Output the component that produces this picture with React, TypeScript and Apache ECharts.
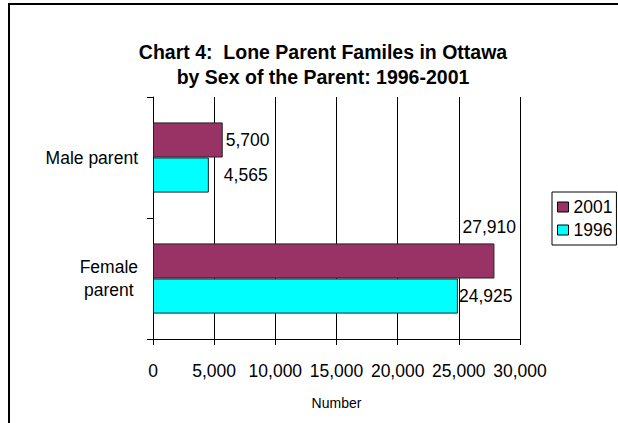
import React, { useEffect, useRef } from "react";
import * as echarts from "echarts";

const categories = ["Female\nparent", "Male parent"];
const values1996 = [24925, 4565];
const values2001 = [27910, 5700];
const seriesNames = ["2001", "1996"];
const xTicks = { min: 0, max: 30000, interval: 5000 };

const FONT = "Liberation Sans, Arial, sans-serif";
const FS = 17.5;
const fmt = (v: number) => v.toLocaleString("en-US");

export default function App() {
  const ref = useRef<HTMLDivElement>(null);
  useEffect(() => {
    if (!ref.current) return;
    const chart = echarts.init(ref.current, null, { renderer: "svg" });
    const labelBase = {
      show: true,
      position: "right",
      fontSize: FS,
      fontFamily: FONT,
      color: "#000",
      formatter: (p: any) => fmt(p.value),
    };
    const data1996 = values1996.map((v, i) => ({
      value: v,
      label: i === 0 ? { distance: 1 } : { distance: 15 },
    }));
    const data2001 = values2001.map((v, i) => ({
      value: v,
      label: i === 0 ? { distance: 5, offset: [-37, -34] } : { distance: 3 },
    }));
    chart.setOption({
      animation: false,
      backgroundColor: "#fff",
      textStyle: { fontFamily: FONT },
      title: {
        text: "Chart 4:  Lone Parent Familes in Ottawa\nby Sex of the Parent: 1996-2001",
        left: 318,
        top: 34,
        textAlign: "center",
        textStyle: {
          fontFamily: FONT,
          fontWeight: "bold",
          fontSize: 19.5,
          lineHeight: 25,
          color: "#000",
        },
      },
      legend: {
        data: seriesNames,
        orient: "vertical",
        left: 552,
        top: 192,
        padding: [5, 4, 5, 5],
        itemGap: 3,
        itemWidth: 11,
        itemHeight: 10,
        borderColor: "#000",
        borderWidth: 1,
        icon: "rect",
        itemStyle: { borderColor: "#000", borderWidth: 1 },
        textStyle: { fontFamily: FONT, fontSize: FS, lineHeight: 20, color: "#000" },
      },
      grid: { left: 153, right: 98, top: 97, bottom: 84, containLabel: false },
      xAxis: {
        type: "value",
        min: xTicks.min,
        max: xTicks.max,
        interval: xTicks.interval,
        name: "Number",
        nameLocation: "middle",
        nameGap: 57,
        nameTextStyle: { fontFamily: FONT, fontSize: 14, color: "#000" },
        axisLine: { show: true, lineStyle: { color: "#000", width: 1 } },
        axisTick: { show: true, length: 6, lineStyle: { color: "#000" } },
        axisLabel: {
          fontFamily: FONT,
          fontSize: FS,
          color: "#000",
          margin: 23,
          formatter: (v: number) => fmt(v),
        },
        splitLine: { show: true, lineStyle: { color: "#000", width: 1 } },
      },
      yAxis: {
        type: "category",
        data: categories,
        axisLine: { show: true, lineStyle: { color: "#000", width: 1 } },
        axisTick: { show: true, length: 6, lineStyle: { color: "#000" } },
        axisLabel: {
          fontFamily: FONT,
          fontSize: FS,
          color: "#000",
          margin: 15,
          lineHeight: 23,
          formatter: (v: string) =>
            v.split("\n").map((l) => `{c|${l}}`).join("\n"),
          rich: { c: { align: "center", fontSize: FS, fontFamily: FONT, color: "#000", lineHeight: 23 } },
        },
        splitLine: { show: false },
      },
      series: [
        {
          name: "2001",
          type: "bar",
          data: data2001,
          barGap: "0%",
          barCategoryGap: "42%",
          itemStyle: { color: "#993366", borderColor: "#222", borderWidth: 1 },
          label: labelBase,
        },
        {
          name: "1996",
          type: "bar",
          data: data1996,
          barGap: "0%",
          barCategoryGap: "42%",
          itemStyle: { color: "#00FFFF", borderColor: "#222", borderWidth: 1 },
          label: labelBase,
        },
      ],
      graphic: [
        {
          type: "line",
          shape: { x1: 8, y1: 4, x2: 618, y2: 4 },
          style: { stroke: "#000", lineWidth: 2 },
          silent: true,
        },
        {
          type: "line",
          shape: { x1: 9, y1: 3, x2: 9, y2: 423 },
          style: { stroke: "#000", lineWidth: 2 },
          silent: true,
        },
      ],
    });
    return () => chart.dispose();
  }, []);
  return (
    <div
      ref={ref}
      style={{ position: "fixed", left: 0, top: 0, width: 618, height: 423 }}
    />
  );
}
